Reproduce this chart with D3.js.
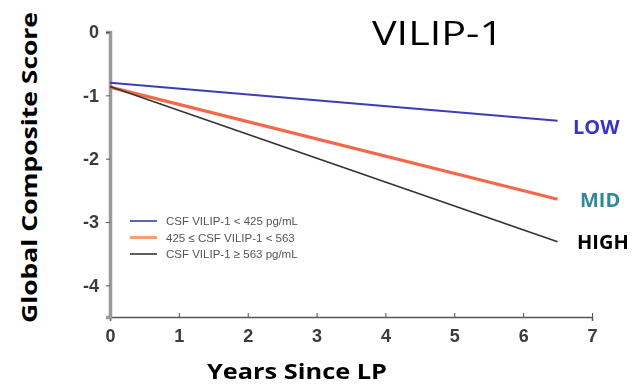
<!DOCTYPE html>
<html>
<head>
<meta charset="utf-8">
<script src="https://cdn.jsdelivr.net/npm/d3@7"></script>
<style>
  html, body { margin: 0; padding: 0; background: #fff; }
  svg { display: block; }
</style>
</head>
<body>
<svg id="chart" width="644" height="387"></svg>
<script>
// Fitted trajectories of the global composite score by CSF VILIP-1 tertile
const groups = ["LOW", "MID", "HIGH"];
const legendLabels = [
  "CSF VILIP-1 < 425 pg/mL",
  "425 \u2264 CSF VILIP-1 < 563",
  "CSF VILIP-1 \u2265 563 pg/mL"
];
const years = [0, 6.5];
const lowScores = [-0.80, -1.40];
const midScores = [-0.87, -2.64];
const highScores = [-0.86, -3.31];
const xTicks = [0, 1, 2, 3, 4, 5, 6, 7];
const yTicks = [0, -1, -2, -3, -4];

const lineColors = ["#3c3cb4", "#f2694a", "#333333"];
const lineWidths = [2, 3.2, 1.6];
const groupLabelColors = ["#3535c8", "#31879c", "#000000"];

const svg = d3.select("#chart");

// Slight softening for the printed plot panel
svg.append("defs").append("filter").attr("id", "soft")
  .append("feGaussianBlur").attr("stdDeviation", 0.45);

const x = d3.scaleLinear().domain([0, 7]).range([110, 592]);
const y = d3.scaleLinear().domain([0, -4.5]).range([32, 317]);
const hyphenFmt = d => String(d).replace("\u2212", "-");

const panel = svg.append("g").attr("filter", "url(#soft)");

// Axes
const xAxis = d3.axisBottom(x).tickValues(xTicks).tickSize(4).tickPadding(8)
  .tickFormat(hyphenFmt);
const gx = panel.append("g").attr("transform", `translate(0,${y(-4.5)})`).call(xAxis);
gx.select(".domain").attr("stroke", "#555").attr("stroke-width", 1.5);
gx.selectAll(".tick line").attr("stroke", "#555").attr("transform", "translate(0,-4)");
gx.selectAll(".tick text")
  .attr("font-family", "Liberation Sans, Arial, sans-serif")
  .attr("font-size", 18).attr("font-weight", "bold").attr("fill", "#3a3a3a");

const yAxis = d3.axisLeft(y).tickValues(yTicks).tickSize(4).tickPadding(7)
  .tickFormat(hyphenFmt);
const gy = panel.append("g").attr("transform", `translate(${x(0)},0)`).call(yAxis);
gy.select(".domain").attr("stroke", "#9a9a9a").attr("stroke-width", 3.5);
gy.selectAll(".tick line").attr("stroke", "#555");
gy.selectAll(".tick text")
  .attr("font-family", "Liberation Sans, Arial, sans-serif")
  .attr("font-size", 18).attr("font-weight", "bold").attr("fill", "#3a3a3a");

// Trajectory lines
const series = [lowScores, midScores, highScores];
const line = d3.line().x((d, i) => x(years[i])).y(d => y(d));
panel.append("g").selectAll("path")
  .data(series)
  .join("path")
  .attr("d", d => line(d))
  .attr("fill", "none")
  .attr("stroke", (d, i) => lineColors[i])
  .attr("stroke-width", (d, i) => lineWidths[i]);

// Legend
const legend = panel.append("g");
legendLabels.forEach((lbl, i) => {
  const ly = 221 + i * 16.5;
  legend.append("line")
    .attr("x1", 130).attr("x2", 157).attr("y1", ly).attr("y2", ly)
    .attr("stroke", i === 1 ? "#f79a7e" : lineColors[i])
    .attr("stroke-width", i === 1 ? 3 : 1.6);
  legend.append("text")
    .attr("x", 166).attr("y", ly + 4)
    .attr("font-family", "Liberation Sans, Arial, sans-serif")
    .attr("font-size", 11.5)
    .attr("fill", "#555")
    .text(lbl);
});

// Group labels at line ends
const labelX = [573, 580, 577];
const labelDy = [13, 8, 7];
svg.append("g").selectAll("text")
  .data(groups)
  .join("text")
  .attr("x", (d, i) => labelX[i])
  .attr("y", (d, i) => y(series[i][1]) + labelDy[i])
  .attr("font-family", "Open Sans, Noto Sans, sans-serif")
  .attr("font-weight", "bold")
  .attr("font-size", 20)
  .attr("fill", (d, i) => groupLabelColors[i])
  .text(d => d);

// Title
svg.append("text")
  .attr("x", 372).attr("y", 45)
  .attr("font-family", "Open Sans, Noto Sans, sans-serif")
  .attr("font-size", 32)
  .attr("textLength", 131)
  .attr("lengthAdjust", "spacingAndGlyphs")
  .attr("fill", "#000")
  .text("VILIP-1");

// Axis titles
svg.append("text")
  .attr("x", 207).attr("y", 379)
  .attr("font-family", "Open Sans, Noto Sans, sans-serif")
  .attr("font-weight", "bold")
  .attr("font-size", 22)
  .attr("textLength", 180)
  .attr("lengthAdjust", "spacingAndGlyphs")
  .attr("fill", "#000")
  .text("Years Since LP");

svg.append("text")
  .attr("transform", "translate(37,323) rotate(-90)")
  .attr("font-family", "Open Sans, Noto Sans, sans-serif")
  .attr("font-weight", "bold")
  .attr("font-size", 22)
  .attr("textLength", 311)
  .attr("lengthAdjust", "spacingAndGlyphs")
  .attr("fill", "#000")
  .text("Global Composite Score");
</script>
</body>
</html>
